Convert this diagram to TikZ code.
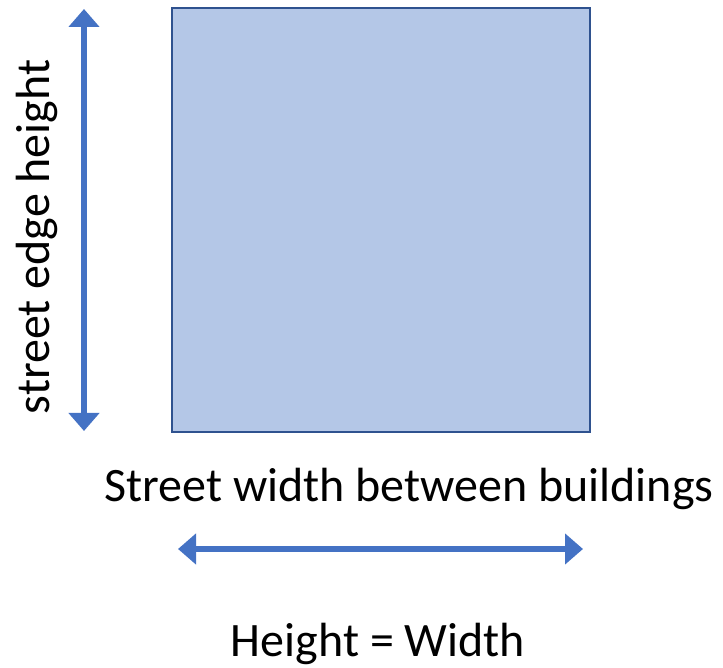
\documentclass[tikz,border=0pt]{standalone}
\usepackage{fontspec}
\setmainfont{Carlito}
\usetikzlibrary{arrows.meta}
\definecolor{boxfill}{HTML}{B4C7E7}
\definecolor{boxline}{HTML}{2F528F}
\definecolor{arrowblue}{HTML}{4472C4}
\tikzset{
  dimarrow/.style={draw=arrowblue, line width=5.5pt, {Triangle[width=30pt,length=18pt]}-{Triangle[width=30pt,length=18pt]}, shorten <=0pt, shorten >=0pt},
  label/.style={font=\fontsize{48}{56}\selectfont, inner sep=0pt, anchor=base},
}
\begin{document}
\begin{tikzpicture}[x=1pt,y=1pt]
\useasboundingbox (0,0) rectangle (723,668);
\draw[fill=boxfill, draw=boxline, line width=2pt] (172,236) rectangle (590,660);
\coordinate (vtop) at (84,659);
\coordinate (vbot) at (84,237);
\draw[dimarrow] (vbot) -- (vtop);
\coordinate (hleft) at (178,119);
\coordinate (hright) at (583,119);
\draw[dimarrow] (hleft) -- (hright);
\node[label, rotate=90] (hlabel) at (50,431) {street edge height};
\node[label] (wlabel) at (409,166) {Street width between buildings};
\node[label] (eqlabel) at (378,11) {Height = Width};
\end{tikzpicture}
\end{document}
